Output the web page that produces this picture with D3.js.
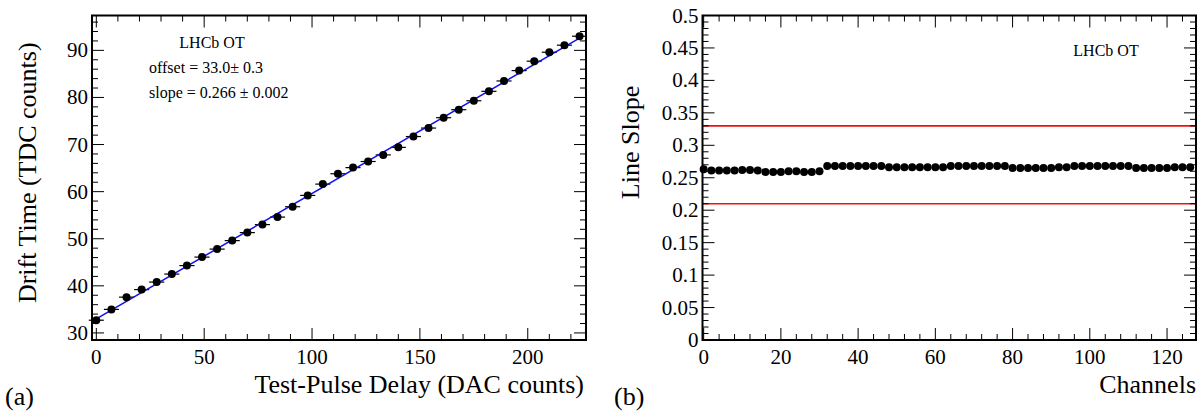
<!DOCTYPE html>
<html><head><meta charset="utf-8">
<script src="https://cdn.jsdelivr.net/npm/d3@7"></script>
<style>body{margin:0;background:#fff}svg text{font-family:"Liberation Serif","Times New Roman","DejaVu Serif",serif}</style>
</head><body><svg id="c" width="1201" height="412" font-family="Liberation Serif, Times New Roman, DejaVu Serif, serif"></svg>
<script>
// Panel (a) data
const delays = d3.range(0, 225, 7)
const driftTimes = [32.7,35.0,37.6,39.2,40.8,42.5,44.3,46.1,47.8,49.6,51.3,53.0,54.6,56.8,59.2,61.6,
	63.8,65.1,66.4,67.8,69.4,71.7,73.5,75.7,77.4,79.3,81.3,83.5,85.7,87.7,89.6,91.1,93.0]
const fitOffset = 33.0
const fitSlope = 0.266
// Panel (b) data: one slope per even channel
const channels = d3.range(0, 128, 2)
const slopes = [
	0.263,0.261,0.261,0.261,0.261,0.262,0.262,0.261,
	0.259,0.259,0.259,0.260,0.260,0.259,0.259,0.260,
	0.268,0.268,0.268,0.268,0.268,0.268,0.268,0.268,
	0.266,0.266,0.266,0.266,0.266,0.266,0.266,0.266,
	0.268,0.268,0.268,0.268,0.268,0.268,0.268,0.268,
	0.265,0.265,0.265,0.265,0.265,0.265,0.266,0.266,
	0.268,0.268,0.268,0.268,0.268,0.268,0.268,0.268,
	0.265,0.265,0.265,0.265,0.265,0.266,0.266,0.266]
const limits = [0.21, 0.33]

const svg = d3.select('#c')

function frame(x0, x1, y0, y1, sx, sy, xMaj, xMin, yMaj, yMin, yFmt) {
	const g = svg.append('g')
	const tl = 12, ts = 6
	const [dx0, dx1] = sx.domain(), [dy0, dy1] = sy.domain()
	const xt = d3.range(Math.ceil(dx0 / xMin) * xMin, dx1 + 1e-9, xMin)
	xt.forEach(v => {
		const major = Math.abs(v / xMaj - Math.round(v / xMaj)) < 1e-6
		const L = major ? tl : ts
		g.append('line').attr('x1', sx(v)).attr('x2', sx(v)).attr('y1', y1).attr('y2', y1 - L).attr('stroke', '#000')
		g.append('line').attr('x1', sx(v)).attr('x2', sx(v)).attr('y1', y0).attr('y2', y0 + L).attr('stroke', '#000')
		if (major) g.append('text').attr('x', sx(v)).attr('y', y1 + 24).attr('text-anchor', 'middle')
			.attr('font-size', 21).text(d3.format('d')(v))
	})
	const yt = d3.range(Math.ceil(dy0 / yMin - 1e-6) * yMin, dy1 + 1e-9, yMin)
	yt.forEach(v => {
		const major = Math.abs(v / yMaj - Math.round(v / yMaj)) < 1e-6
		const L = major ? tl : ts
		g.append('line').attr('x1', x0).attr('x2', x0 + L).attr('y1', sy(v)).attr('y2', sy(v)).attr('stroke', '#000')
		g.append('line').attr('x1', x1).attr('x2', x1 - L).attr('y1', sy(v)).attr('y2', sy(v)).attr('stroke', '#000')
		if (major) g.append('text').attr('x', x0 - 4).attr('y', sy(v) + 7).attr('text-anchor', 'end')
			.attr('font-size', 21).text(yFmt(v))
	})
	g.append('rect').attr('x', x0).attr('y', y0).attr('width', x1 - x0).attr('height', y1 - y0)
		.attr('fill', 'none').attr('stroke', '#000').attr('stroke-width', 2)
}

// Panel (a)
const ax0 = 92, ax1 = 586, plotTop = 15.5, plotBot = 340
const xA = d3.scaleLinear().domain([-2, 227]).range([ax0, ax1])
const yA = d3.scaleLinear().domain([28.5, 97.4]).range([plotBot, plotTop])
const pa = svg.append('g')
delays.forEach((d, i) => {
	pa.append('line').attr('x1', xA(d - 3.5)).attr('x2', xA(d + 3.5))
		.attr('y1', yA(driftTimes[i])).attr('y2', yA(driftTimes[i])).attr('stroke', '#000').attr('stroke-width', 1.2)
})
pa.append('line').attr('x1', xA(0)).attr('x2', xA(225)).attr('y1', yA(fitOffset)).attr('y2', yA(fitOffset + fitSlope * 225))
	.attr('stroke', '#1010ee').attr('stroke-width', 1.5)
pa.selectAll('circle').data(delays).enter().append('circle')
	.attr('cx', d => xA(d)).attr('cy', (d, i) => yA(driftTimes[i])).attr('r', 4).attr('fill', '#000')
frame(ax0, ax1, plotTop, plotBot, xA, yA, 50, 10, 10, 2, d3.format('d'))
pa.append('text').attr('x', 212).attr('y', 48).attr('text-anchor', 'middle').attr('font-size', 16).text('LHCb OT')
pa.append('text').attr('x', 149).attr('y', 73).attr('font-size', 16).text('offset = 33.0\u00b1 0.3')
pa.append('text').attr('x', 149).attr('y', 98).attr('font-size', 16).text('slope = 0.266 \u00b1 0.002')
svg.append('text').attr('transform', `translate(36,${(plotTop + plotBot) / 2 - 5}) rotate(-90)`).attr('text-anchor', 'middle')
	.attr('font-size', 26).text('Drift Time (TDC counts)')
svg.append('text').attr('x', 584).attr('y', 393).attr('text-anchor', 'end').attr('font-size', 26).text('Test-Pulse Delay (DAC counts)')
svg.append('text').attr('x', 5).attr('y', 405).attr('font-size', 26).text('(a)')

// Panel (b)
const bx0 = 702.5, bx1 = 1196
const xB = d3.scaleLinear().domain([-0.3, 127.5]).range([bx0, bx1])
const yB = d3.scaleLinear().domain([0, 0.5]).range([plotBot, plotTop])
const pb = svg.append('g')
limits.forEach(v => {
	pb.append('line').attr('x1', bx0).attr('x2', bx1).attr('y1', yB(v)).attr('y2', yB(v))
		.attr('stroke', '#ee1111').attr('stroke-width', 1.6)
})
pb.selectAll('circle').data(slopes).enter().append('circle')
	.attr('cx', (d, i) => xB(channels[i])).attr('cy', d => yB(d)).attr('r', 4).attr('fill', '#000')
frame(bx0, bx1, plotTop, plotBot, xB, yB, 20, 4, 0.05, 0.01, v => d3.format('~g')(+v.toFixed(2)))
pb.append('text').attr('x', 1106).attr('y', 56).attr('text-anchor', 'middle').attr('font-size', 16).text('LHCb OT')
svg.append('text').attr('transform', `translate(639,${plotTop + 127}) rotate(-90)`).attr('text-anchor', 'middle')
	.attr('font-size', 26).text('Line Slope')
svg.append('text').attr('x', 1196).attr('y', 393).attr('text-anchor', 'end').attr('font-size', 26).text('Channels')
svg.append('text').attr('x', 614).attr('y', 405).attr('font-size', 26).text('(b)')
</script></body></html>
